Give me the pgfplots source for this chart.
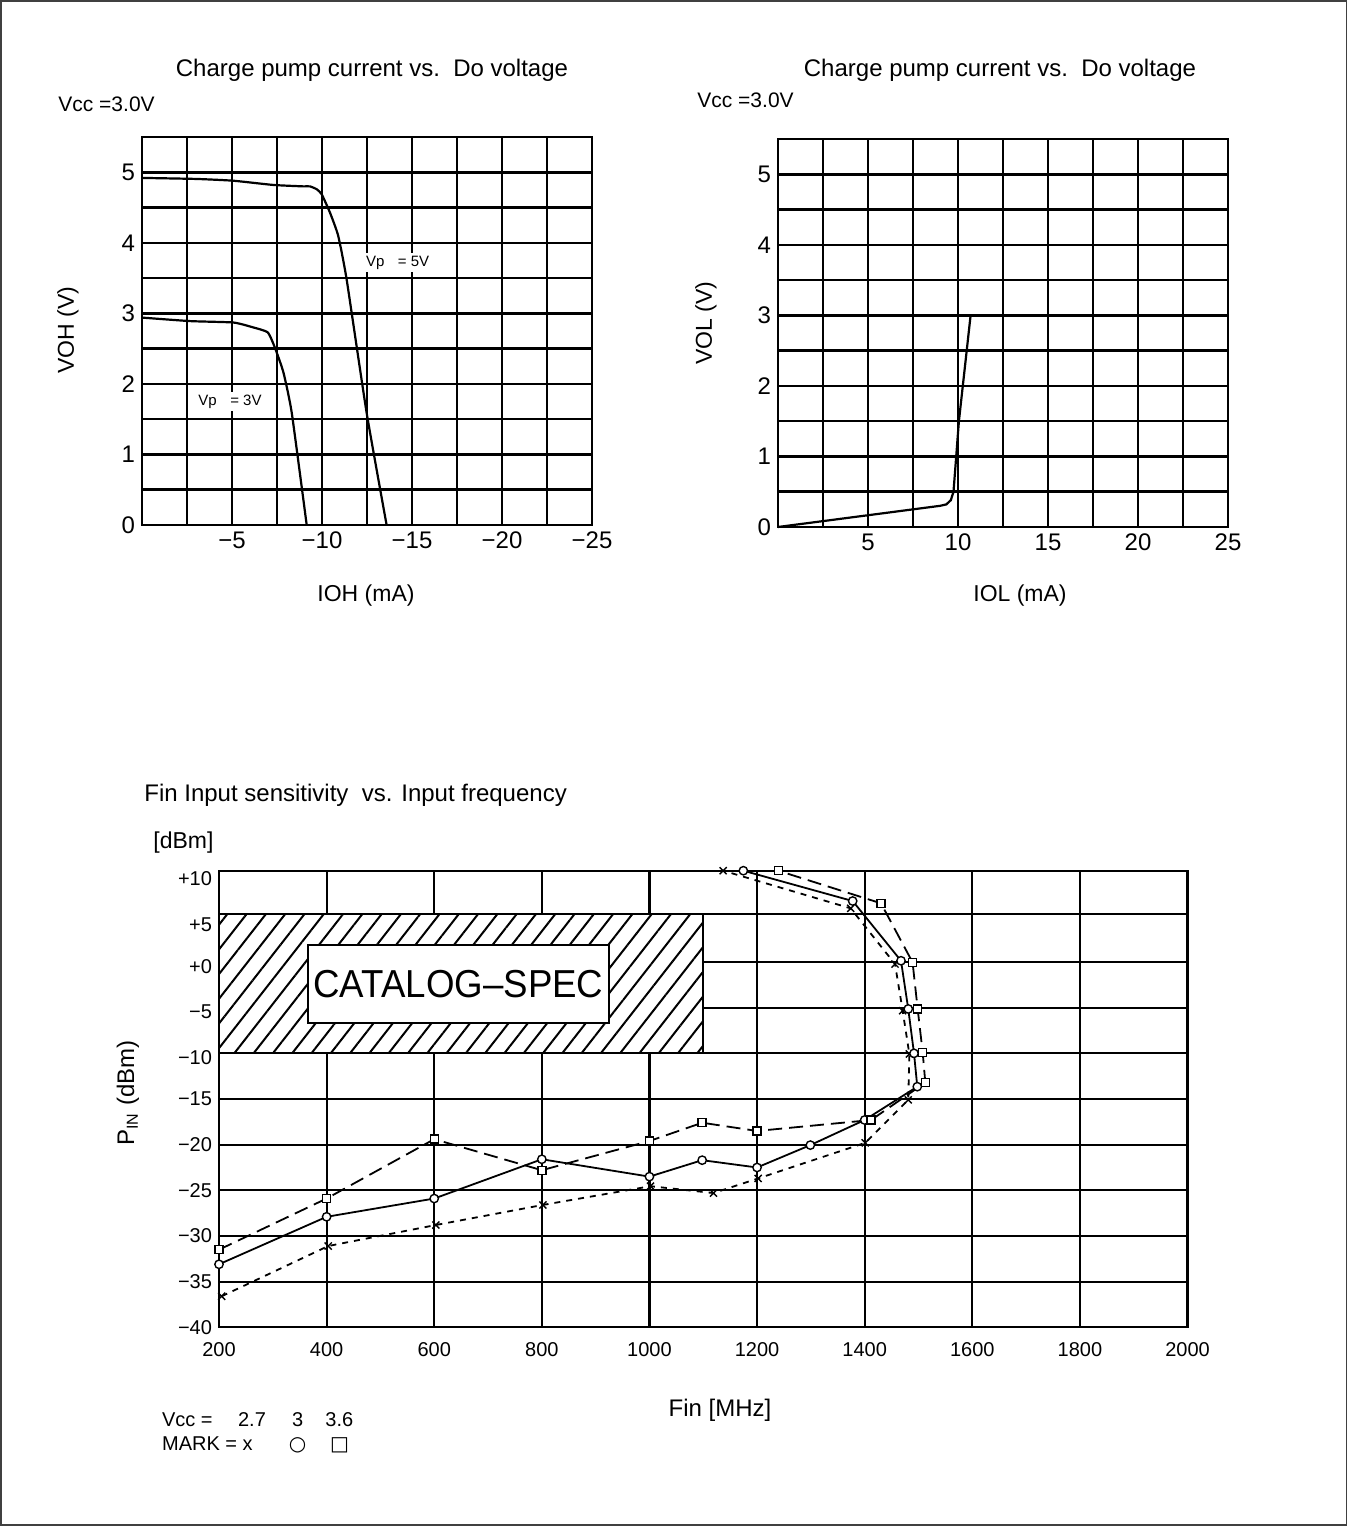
\documentclass[border=0pt]{standalone}
\usepackage{fontspec}
\setmainfont{Liberation Sans}
\newfontfamily\djv{DejaVu Sans}
\usepackage{pgfplots}
\pgfplotsset{compat=1.18}
\usetikzlibrary{patterns.meta}

\begin{document}
\begin{tikzpicture}
\useasboundingbox (0,0) rectangle (674pt,763pt);
\draw[line width=0.8pt, black!75] (0.6pt,0.6pt) rectangle (673.2pt,762.4pt);

\pgfplotsset{
  topax/.style={
    scale only axis, width=225pt, height=194pt, anchor=south west,
    ymin=0, ymax=5.5,
    ytick={0,0.5,1,1.5,2,2.5,3,3.5,4,4.5,5,5.5},
    yticklabels={0,,1,,2,,3,,4,,5,},
    grid=major, major grid style={line width=1.3pt, black},
    axis line style={line width=1.3pt},
    major tick length=0pt,
    tick label style={font=\fontsize{12}{14}\selectfont},
    clip=false,
  },
}

% ---------------- top-left ----------------
\begin{axis}[topax, at={(71pt,500.5pt)},
  xmin=-25, xmax=0, x dir=reverse,
  xtick={0,-2.5,-5,-7.5,-10,-12.5,-15,-17.5,-20,-22.5,-25},
  xticklabels={,,−5,,−10,,−15,,−20,,−25}]
\addplot[black, line width=1.1pt, smooth, tension=0.3] coordinates {
 (0,4.92) (-3.05,4.905) (-5.08,4.88) (-7.3,4.82) (-8.96,4.80) (-9.33,4.80)
 (-9.7,4.76) (-9.98,4.69) (-10.44,4.43) (-10.9,4.10) (-11.37,3.48) (-12.48,1.59) (-13.59,0)};
\addplot[black, line width=1.1pt, smooth, tension=0.3] coordinates {
 (0,2.94) (-2.68,2.89) (-5.08,2.87) (-6.19,2.80) (-6.99,2.73) (-7.39,2.51)
 (-7.86,2.16) (-8.32,1.59) (-9.15,0)};
\node[fill=white, inner sep=1.5pt, font=\fontsize{7.5}{9}\selectfont] at (axis cs:-14.2,3.72) {Vp\hspace{0.9em}= 5V};
\node[fill=white, inner sep=1.5pt, font=\fontsize{7.5}{9}\selectfont] at (axis cs:-4.89,1.75) {Vp\hspace{0.9em}= 3V};
\end{axis}

% ---------------- top-right ----------------
\begin{axis}[topax, at={(389pt,499.5pt)},
  xmin=0, xmax=25,
  xtick={0,2.5,5,7.5,10,12.5,15,17.5,20,22.5,25},
  xticklabels={,,5,,10,,15,,20,,25}]
\addplot[black, line width=1.1pt] coordinates {
 (0,0) (9.0,0.30) (9.35,0.32) (9.6,0.38) (9.75,0.5) (10.05,1.5) (10.7,3.0)};
\end{axis}

% top texts
\node[font=\fontsize{12}{14}\selectfont] at (186pt,728pt) {Charge pump current vs.\ \ Do voltage};
\node[font=\fontsize{12}{14}\selectfont] at (500pt,728pt) {Charge pump current vs.\ \ Do voltage};
\node[anchor=west, inner sep=0pt, font=\fontsize{10.5}{12}\selectfont] at (29pt,711pt) {Vcc =3.0V};
\node[anchor=west, inner sep=0pt, font=\fontsize{10.5}{12}\selectfont] at (348.5pt,713pt) {Vcc =3.0V};
\node[rotate=90, font=\fontsize{11.5}{13}\selectfont] at (34pt,598pt) {VOH (V)};
\node[font=\fontsize{11.5}{13}\selectfont] at (183pt,465pt) {IOH (mA)};
\node[rotate=90, font=\fontsize{11.5}{13}\selectfont] at (353pt,601.5pt) {VOL (V)};
\node[font=\fontsize{11.5}{13}\selectfont] at (510pt,465pt) {IOL (mA)};

% ---------------- bottom ----------------
\begin{axis}[scale only axis, width=484.25pt, height=228.3pt, anchor=south west,
  at={(109.5pt,99.35pt)},
  xmin=200, xmax=2000, ymin=-40, ymax=10,
  xtick={200,400,600,800,1000,1200,1400,1600,1800,2000},
  xticklabels={200,400,600,800,1000,1200,1400,1600,1800,2000},
  ytick={9.1,4.05,-0.54,-5.47,-10.5,-15,-20,-25,-30,-35,-40},
  yticklabels={+10,+5,+0,−5,−10,−15,−20,−25,−30,−35,−40},
  minor ytick={-40,-35,-30,-25,-20,-15,-10,-5,0,5.3,10},
  xmajorgrids=true, ymajorgrids=false, yminorgrids=true,
  major grid style={line width=1.05pt, black},
  minor grid style={line width=1.05pt, black},
  axis line style={line width=1.05pt},
  major tick length=0pt, minor tick length=0pt,
  tick label style={font=\fontsize{10}{12}\selectfont},
  xticklabel style={yshift=-4pt},
  clip=false]
\addplot[draw=black, line width=1.05pt, fill=white,
  postaction={pattern={Lines[angle=52,distance=7.6pt,line width=1pt]}}]
  coordinates {(200,-10) (1100,-10) (1100,5.3) (200,5.3)} -- cycle;
\node[draw, line width=1pt, fill=white, minimum width=150.3pt, minimum height=39.1pt,
  inner sep=0pt, font=\fontsize{19.5}{21}\selectfont] at (axis cs:645,-2.43) {\scalebox{0.94}[1]{CATALOG–SPEC}};
% Vcc = 2.7 (x)
\addplot[black, line width=0.9pt, dash pattern=on 3pt off 3pt, mark=x, mark size=2.5pt,
  mark options={solid, line width=0.7pt}] coordinates {
 (205,-36.6) (403,-31.1) (603,-28.8) (802,-26.6) (1002,-24.55) (1119,-25.3) (1202,-23.7)
 (1401,-19.8) (1481,-15.1) (1483,-10.07) (1470.6,-5.33) (1456.4,-0.22) (1374,5.88) (1137,10)};
% Vcc = 3 (circle)
\addplot[black, line width=0.9pt, mark=*, mark size=2.1pt,
  mark options={solid, fill=white, line width=0.7pt}] coordinates {
 (200,-33.1) (400,-27.9) (600,-25.9) (800,-21.6) (1000,-23.5) (1098,-21.7) (1200,-22.5)
 (1299,-20.05) (1400,-17.3) (1497.8,-13.65) (1491.7,-10.0) (1481,-5.14) (1467.5,0.14)
 (1377.7,6.68) (1174.5,10)};
% Vcc = 3.6 (square)
\addplot[black, line width=0.9pt, dash pattern=on 7pt off 3.5pt, mark=square*, mark size=2pt,
  mark options={solid, fill=white, line width=0.7pt}] coordinates {
 (200,-31.5) (400,-25.9) (600,-19.4) (800,-22.8) (1000,-19.6) (1098,-17.6) (1200,-18.5)
 (1412,-17.3) (1512.7,-13.2) (1507.8,-9.89) (1498.5,-5.14) (1489,-0.03) (1430.3,6.43) (1239.5,10)};
\end{axis}

% bottom texts
\node[anchor=west, inner sep=0pt, font=\fontsize{12}{14}\selectfont] at (72pt,365.5pt) {Fin Input sensitivity\ \ vs. Input frequency};
\node[anchor=west, inner sep=0pt, font=\fontsize{11.5}{13}\selectfont] at (76.5pt,341.5pt) {[dBm]};
\node[rotate=90, font=\fontsize{12}{14}\selectfont] at (64pt,216.5pt) {P\textsubscript{IN} (dBm)};
\node[font=\fontsize{12}{14}\selectfont] at (360pt,58pt) {Fin [MHz]};
\node[anchor=base west, inner sep=0pt, font=\fontsize{10}{12}\selectfont] at (80.85pt,49.65pt) {Vcc =};
\node[anchor=base west, inner sep=0pt, font=\fontsize{10}{12}\selectfont] at (118.85pt,49.65pt) {2.7};
\node[anchor=base west, inner sep=0pt, font=\fontsize{10}{12}\selectfont] at (145.85pt,49.65pt) {3};
\node[anchor=base west, inner sep=0pt, font=\fontsize{10}{12}\selectfont] at (162.5pt,49.65pt) {3.6};
\node[anchor=base west, inner sep=0pt, font=\fontsize{10}{12}\selectfont] at (80.85pt,37.5pt) {MARK = x};
\node[anchor=base, inner sep=0pt, font=\djv\fontsize{10}{12}\selectfont] at (148.75pt,37.5pt) {○};
\node[anchor=base, inner sep=0pt, font=\djv\fontsize{10}{12}\selectfont] at (169.75pt,37.5pt) {□};
\end{tikzpicture}
\end{document}
